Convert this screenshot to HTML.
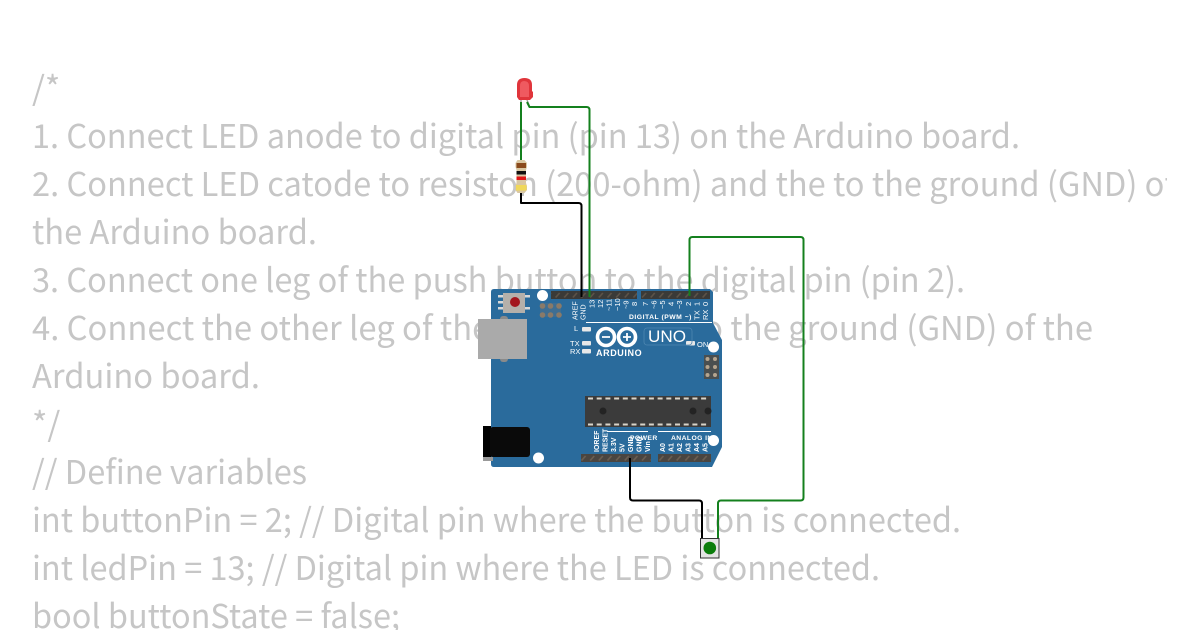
<!DOCTYPE html>
<html><head><meta charset="utf-8"><style>
html,body{margin:0;padding:0;background:#fff;width:1200px;height:630px;overflow:hidden}
svg{display:block}
.c text{font-family:"Noto Sans CJK JP","Liberation Sans",sans-serif;font-size:33px;fill:#c6c6c6}
.b{font-family:"Liberation Sans",sans-serif;font-weight:bold;fill:#fff}
.r{font-family:"Liberation Sans",sans-serif;font-size:7.5px;fill:#fff}
</style></head><body>
<svg width="1200" height="630" viewBox="0 0 1200 630" xmlns="http://www.w3.org/2000/svg">
<defs>
<clipPath id="cl"><rect x="0" y="0" width="1167" height="630"/></clipPath>
<pattern id="hp" x="0" y="291" width="8.65" height="8" patternUnits="userSpaceOnUse"><rect width="8.65" height="8" fill="#3a3a38"/><path d="M2 6.5L6 2" stroke="#5d5348" stroke-width="1.6"/></pattern>
<pattern id="hq" x="0" y="454" width="8.65" height="8" patternUnits="userSpaceOnUse"><rect width="8.65" height="8" fill="#4a4540"/><path d="M2 6.5L6 2" stroke="#6b5f52" stroke-width="1.6"/></pattern>
</defs>
<g class="c" clip-path="url(#cl)">
<text x="32" y="100">/*</text>
<text x="32" y="148" textLength="988" lengthAdjust="spacingAndGlyphs">1. Connect LED anode to digital pin (pin 13) on the Arduino board.</text>
<text x="32" y="196" textLength="1143" lengthAdjust="spacingAndGlyphs">2. Connect LED catode to resiston (200-ohm) and the to the ground (GND) of</text>
<text x="32" y="244" textLength="285" lengthAdjust="spacingAndGlyphs">the Arduino board.</text>
<text x="32" y="292" textLength="933" lengthAdjust="spacingAndGlyphs">3. Connect one leg of the push button to the digital pin (pin 2).</text>
<text x="32" y="340" textLength="1061" lengthAdjust="spacingAndGlyphs">4. Connect the other leg of the push button to the ground (GND) of the</text>
<text x="32" y="388" textLength="228" lengthAdjust="spacingAndGlyphs">Arduino board.</text>
<text x="32" y="436">*/</text>
<text x="32" y="484" textLength="275" lengthAdjust="spacingAndGlyphs">// Define variables</text>
<text x="32" y="532" textLength="929" lengthAdjust="spacingAndGlyphs">int buttonPin = 2; // Digital pin where the button is connected.</text>
<text x="32" y="580" textLength="848" lengthAdjust="spacingAndGlyphs">int ledPin = 13; // Digital pin where the LED is connected.</text>
<text x="32" y="628" textLength="368" lengthAdjust="spacingAndGlyphs">bool buttonState = false;</text>
</g>

<!-- board -->
<path d="M494 289H710L713 292V323L722 340V447L712 467H494Q491 467 491 464V292Q491 289 494 289Z" fill="#2a6b9c"/>
<!-- reset -->
<rect x="498" y="295" width="5" height="2.5" fill="#d8d8d8"/><rect x="498" y="301" width="5" height="2.5" fill="#d8d8d8"/><rect x="498" y="307" width="5" height="2.5" fill="#d8d8d8"/>
<rect x="525" y="295" width="5" height="2.5" fill="#d8d8d8"/><rect x="525" y="307" width="5" height="2.5" fill="#d8d8d8"/>
<rect x="503" y="293" width="22" height="20" fill="#b5b0aa"/>
<circle cx="515" cy="302" r="5" fill="#a3161d"/>
<!-- USB -->
<rect x="500" y="316" width="8" height="46" rx="3" fill="#8a8a8a"/>
<rect x="478" y="319" width="49" height="40" fill="#aaaaaa"/>
<!-- jack -->
<rect x="483" y="457" width="10" height="4" fill="#999"/>
<rect x="483" y="426" width="8" height="31" fill="#000"/>
<rect x="490" y="427" width="40" height="30" rx="3" fill="#0a0a0a"/>
<!-- holes -->
<circle cx="542.500" cy="295.500" r="5.500" fill="#fff"/>
<circle cx="713.500" cy="347" r="5.500" fill="#fff"/>
<circle cx="713.500" cy="440.500" r="5.500" fill="#fff"/>
<circle cx="538.500" cy="458" r="5.500" fill="#fff"/>
<!-- headers -->
<rect x="551" y="291" width="86" height="8" fill="url(#hp)"/>
<rect x="641" y="291" width="69" height="8" fill="url(#hp)"/>
<rect x="581" y="454" width="70" height="8" fill="url(#hq)"/>
<rect x="658" y="454" width="53" height="8" fill="url(#hq)"/>
<!-- ICSP pads -->
<rect x="540" y="303" width="21" height="14" fill="#3f6e92"/>
<g fill="#8a7a68">
<circle cx="542.500" cy="306" r="2.800"/><circle cx="550.500" cy="306" r="2.800"/><circle cx="559" cy="306" r="2.800"/>
<circle cx="542.500" cy="315" r="2.800"/><circle cx="550.500" cy="315" r="2.800"/><circle cx="559" cy="315" r="2.800"/>
</g>
<rect x="704" y="355" width="15" height="24" fill="#4a4f50"/>
<g fill="#b5a58f">
<circle cx="707.500" cy="359" r="2"/><circle cx="715" cy="359" r="2"/>
<circle cx="707.500" cy="367" r="2"/><circle cx="715" cy="367" r="2"/>
<circle cx="707.500" cy="375" r="2"/><circle cx="715" cy="375" r="2"/>
</g>
<!-- chip -->
<rect x="585" y="396" width="126" height="31" fill="#3b3b3b"/>
<path d="M588 398.500H709M588 424.500H709" stroke="#d9d4ca" stroke-width="2" stroke-dasharray="5 3.700"/>
<circle cx="603" cy="411" r="3.500" fill="#232323"/><circle cx="693" cy="411" r="3.500" fill="#232323"/><circle cx="708" cy="411" r="3.500" fill="#232323"/>
<!-- top pin labels -->
<g class="r">
<text transform="translate(577.500,320) rotate(-90)" font-size="7">AREF</text>
<text transform="translate(585.500,320) rotate(-90)" font-size="7">GND</text>
<text transform="translate(594.500,308) rotate(-90)">13</text>
<text transform="translate(603,308) rotate(-90)">12</text>
<text transform="translate(611.500,311) rotate(-90)">~11</text>
<text transform="translate(620,311) rotate(-90)">~10</text>
<text transform="translate(628.500,309) rotate(-90)">~9</text>
<text transform="translate(637,306) rotate(-90)">8</text>
<text transform="translate(648,306) rotate(-90)">7</text>
<text transform="translate(656.500,309) rotate(-90)">~6</text>
<text transform="translate(665,309) rotate(-90)">~5</text>
<text transform="translate(673.500,306) rotate(-90)">4</text>
<text transform="translate(682,309) rotate(-90)">~3</text>
<text transform="translate(691,306) rotate(-90)">2</text>
<text transform="translate(699.500,306) rotate(-90)">1</text>
<text transform="translate(708,306) rotate(-90)">0</text>
<text transform="translate(699.500,320) rotate(-90)">TX</text>
<text transform="translate(708,320) rotate(-90)">RX</text>
</g>
<text class="b" x="629" y="319" font-size="6.800" letter-spacing=".5">DIGITAL (PWM ~)</text>
<path d="M586 322.500H712" stroke="#fff" stroke-width="1"/>
<!-- LEDs -->
<text class="r" x="574" y="331">L</text>
<text class="r" x="570" y="346">TX</text>
<text class="r" x="570" y="354">RX</text>
<rect x="582" y="327" width="9" height="4.500" rx="1" fill="#e8e8e8"/>
<rect x="582" y="341" width="9" height="4.500" rx="1" fill="#e8e8e8"/>
<rect x="582" y="349" width="9" height="4.500" rx="1" fill="#e8e8e8"/>
<rect x="686" y="341" width="9" height="4.500" rx="1" fill="#e8e8e8"/>
<text class="r" x="697" y="347">ON</text>
<!-- logo -->
<g fill="none" stroke="#fff" stroke-width="3.600">
<circle cx="606" cy="337" r="8.500"/><circle cx="627" cy="337" r="8.500"/>
</g>
<path d="M602 337H610M623 337H631M627 333V341" stroke="#fff" stroke-width="1.800"/>
<rect x="644" y="328" width="48" height="17" rx="3" fill="none" stroke="#4d86b0" stroke-width=".8"/>
<text x="648" y="342" font-family="Liberation Sans,sans-serif" font-size="17" fill="#fff" textLength="38" lengthAdjust="spacingAndGlyphs">UNO</text>
<text class="b" x="596" y="356" font-size="9" letter-spacing=".6">ARDUINO</text>
<!-- bottom labels -->
<path d="M607 431.500H648M658 431.500H711" stroke="#fff" stroke-width="1"/>
<text class="b" x="630" y="440" font-size="6.800" letter-spacing=".4">POWER</text>
<text class="b" x="671" y="440" font-size="6.800" letter-spacing=".4">ANALOG IN</text>
<g class="r" font-weight="bold">
<text transform="translate(599,452) rotate(-90)" font-size="7">IOREF</text>
<text transform="translate(607.500,452) rotate(-90)" font-size="7">RESET</text>
<text transform="translate(616,452) rotate(-90)" font-size="7">3.3V</text>
<text transform="translate(624.500,452) rotate(-90)" font-size="7">5V</text>
<text transform="translate(633,452) rotate(-90)" font-size="7">GND</text>
<text transform="translate(641.500,452) rotate(-90)" font-size="7">GND</text>
<text transform="translate(650,452) rotate(-90)" font-size="7">Vin</text>
<text transform="translate(665,452) rotate(-90)" font-size="7">A0</text>
<text transform="translate(673.500,452) rotate(-90)" font-size="7">A1</text>
<text transform="translate(682,452) rotate(-90)" font-size="7">A2</text>
<text transform="translate(690.500,452) rotate(-90)" font-size="7">A3</text>
<text transform="translate(699,452) rotate(-90)" font-size="7">A4</text>
<text transform="translate(707.500,452) rotate(-90)" font-size="7">A5</text>
</g>

<!-- LED part -->
<path d="M521 100V106" stroke="#a8a8a8" stroke-width="1.500"/>
<path d="M527 100L529 105" stroke="#a8a8a8" stroke-width="1.500"/>
<path d="M517 97V85Q517 78 524.500 78Q532 78 532 85V91L533 92V97L530 100H519Z" fill="#e0353b"/>
<path d="M520 97V86Q520 81 524 81Q529 81 529 86V97Z" fill="#ef5a60"/>

<!-- resistor -->
<path d="M521 158V197" stroke="#b5b5b5" stroke-width="2"/>
<path d="M517.500 160H524.500L527 163V167L526 170V183L527 186V190L524.500 193H517.500L515.500 190V186L516.500 183V170L515.500 167V163Z" fill="#d9c7a2"/>
<rect x="516.500" y="163" width="9.500" height="5" fill="#8a4a1c"/>
<rect x="516.500" y="171" width="9.500" height="3.500" fill="#111"/>
<rect x="516.500" y="176.500" width="9.500" height="3.500" fill="#e01616"/>
<rect x="516" y="185" width="10.500" height="5.500" fill="#f0d85a"/>

<!-- button -->
<rect x="700.500" y="538.500" width="18.500" height="19.500" fill="#e4e4e4" stroke="#333" stroke-width="1"/>
<circle cx="709.800" cy="548" r="6.300" fill="#0b7d0b"/>

<!-- wires -->
<g fill="none" stroke-width="2" stroke-linejoin="round">
<path d="M521 102V160" stroke="#14801e"/>
<path d="M527 102L529.500 107H586.500Q589.500 107 589.500 110V297" stroke="#14801e"/>
<path d="M521 193V203H578.500Q581.500 203 581.500 206V297" stroke="#000"/>
<path d="M689.500 296V240Q689.500 237 692.500 237H800.500Q803.500 237 803.500 240V497.500Q803.500 500.500 800.500 500.500H721Q718 500.500 718 503.500V538" stroke="#14801e"/>
<path d="M630 458V497.500Q630 500.500 633 500.500H699Q702 500.500 702 503.500V538" stroke="#000"/>
</g>
</svg>
</body></html>
